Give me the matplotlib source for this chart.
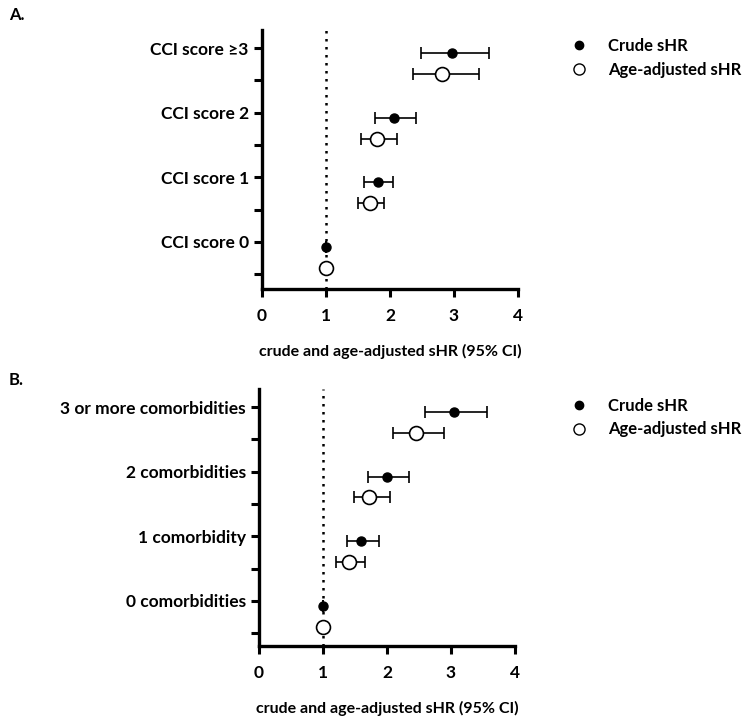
import matplotlib.pyplot as plt
import matplotlib
from matplotlib.ticker import FixedLocator

matplotlib.rcParams['font.family'] = ['Lato', 'DejaVu Sans']
matplotlib.rcParams['font.weight'] = 'bold'
matplotlib.rcParams['axes.labelweight'] = 'bold'
matplotlib.rcParams['font.size'] = 12

# panel A: CCI score
cci_labels = ['CCI score 0', 'CCI score 1', 'CCI score 2', 'CCI score ≥3']
cci_crude = [1.00, 1.81, 2.06, 2.97]
cci_crude_lo = [1.00, 1.59, 1.77, 2.48]
cci_crude_hi = [1.00, 2.04, 2.40, 3.55]
cci_adj = [1.00, 1.69, 1.80, 2.82]
cci_adj_lo = [1.00, 1.50, 1.54, 2.36]
cci_adj_hi = [1.00, 1.91, 2.11, 3.39]

# panel B: number of comorbidities
com_labels = ['0 comorbidities', '1 comorbidity', '2 comorbidities', '3 or more comorbidities']
com_crude = [1.00, 1.60, 2.00, 3.04]
com_crude_lo = [1.00, 1.37, 1.71, 2.60]
com_crude_hi = [1.00, 1.88, 2.35, 3.57]
com_adj = [1.00, 1.41, 1.72, 2.45]
com_adj_lo = [1.00, 1.21, 1.48, 2.09]
com_adj_hi = [1.00, 1.66, 2.04, 2.89]

xlabel = 'crude and age-adjusted sHR (95% CI)'

fig = plt.figure(figsize=(7.48, 7.16), dpi=100)


def forest(rect, labels, crude, clo, chi, adj, alo, ahi, ylim, panel, panel_y, legend_y):
    ax = fig.add_axes(rect)
    pos = list(range(len(labels)))
    yc = [p - 0.08 for p in pos]
    ya = [p - 0.40 for p in pos]
    ax.axvline(1, color='black', linestyle=(0, (1, 2.2)), linewidth=1.8, zorder=1)
    ax.errorbar(crude, yc, xerr=[[c - l for c, l in zip(crude, clo)], [h - c for c, h in zip(crude, chi)]],
                fmt='o', color='black', markersize=6.5, elinewidth=1.2, capsize=4, capthick=1.2,
                zorder=3, label='Crude sHR')
    ax.errorbar(adj, ya, xerr=[[a - l for a, l in zip(adj, alo)], [h - a for a, h in zip(adj, ahi)]],
                fmt='o', color='black', markerfacecolor='white', markeredgewidth=1.2, markersize=10,
                elinewidth=1.2, capsize=4, capthick=1.2, zorder=3, label='Age-adjusted sHR')
    ax.set_xlim(0, 4)
    ax.set_ylim(*ylim)
    ax.set_xticks([0, 1, 2, 3, 4])
    ax.set_yticks(pos)
    ax.set_yticklabels(labels)
    ax.yaxis.set_minor_locator(FixedLocator([p - 0.5 for p in pos]))
    for s in ['top', 'right']:
        ax.spines[s].set_visible(False)
    for s in ['left', 'bottom']:
        ax.spines[s].set_linewidth(2.4)
    ax.tick_params(axis='both', which='both', direction='out', length=6, width=2.2, labelsize=12.5)
    ax.tick_params(axis='x', pad=8)
    ax.set_xlabel(xlabel, fontsize=11.5, labelpad=14)
    fig.text(0.012, panel_y, panel, fontsize=12, fontweight='bold', va='center')
    # legend with plain markers, no error bars
    h1, = ax.plot([], [], 'o', color='black', markersize=6)
    h2, = ax.plot([], [], 'o', color='black', markerfacecolor='white', markeredgewidth=1.0, markersize=8)
    ax.legend([h1, h2], ['Crude sHR', 'Age-adjusted sHR'], loc='upper left',
              bbox_to_anchor=(0.748, legend_y), bbox_transform=fig.transFigure,
              frameon=False, fontsize=12, handlelength=0.5, handletextpad=1.5, labelspacing=0.45)
    return ax


forest([262 / 748, 1 - 289 / 716, 256 / 748, 259 / 716], cci_labels,
       cci_crude, cci_crude_lo, cci_crude_hi, cci_adj, cci_adj_lo, cci_adj_hi,
       (-0.73, 3.28), 'A.', 1 - 15 / 716, 1 - 23 / 716)
forest([259 / 748, 1 - 646 / 716, 256 / 748, 257 / 716], com_labels,
       com_crude, com_crude_lo, com_crude_hi, com_adj, com_adj_lo, com_adj_hi,
       (-0.70, 3.28), 'B.', 1 - 380 / 716, 1 - 383 / 716)

fig.savefig('out.png', dpi=100)
